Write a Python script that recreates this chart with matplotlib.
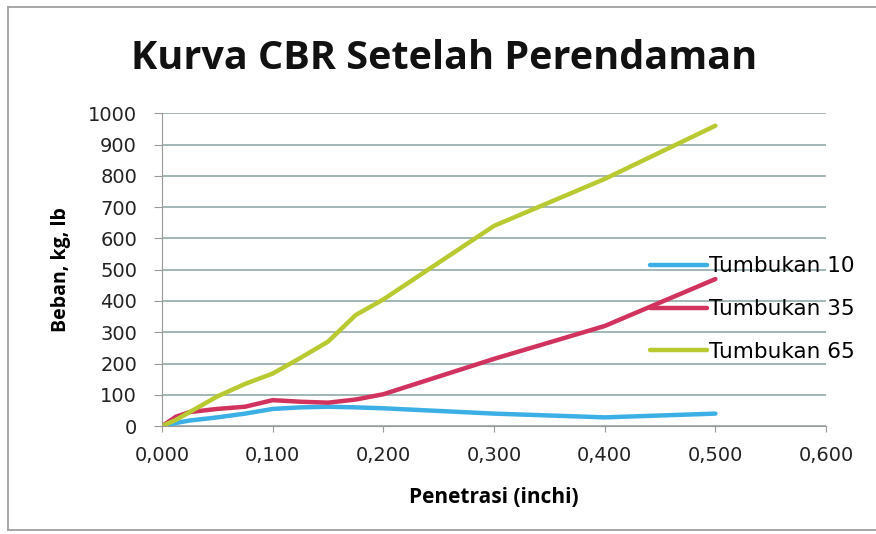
import numpy as np
import matplotlib.pyplot as plt
from matplotlib.lines import Line2D
from matplotlib.ticker import FuncFormatter

# penetrasi (inchi) dan beban untuk tiap jumlah tumbukan
penetrasi = [0, 0.0125, 0.025, 0.05, 0.075, 0.1, 0.125, 0.15, 0.175, 0.2, 0.3, 0.4, 0.5]
tumbukan_10 = [0, 10, 18, 28, 40, 55, 60, 62, 60, 57, 40, 28, 40]
tumbukan_35 = [0, 30, 45, 55, 62, 83, 78, 75, 85, 102, 215, 320, 470]
tumbukan_65 = [0, 20, 45, 95, 135, 168, 218, 270, 355, 405, 640, 790, 960]
labels = ['Tumbukan 10', 'Tumbukan 35', 'Tumbukan 65']
warna = ['#3cb0e6', '#d2325e', '#b9c932']

fig = plt.figure(figsize=(8.76, 5.34), dpi=100)
ax = fig.add_axes([0.185, 0.202, 0.758, 0.586])

for y, lab, c in zip([tumbukan_10, tumbukan_35, tumbukan_65], labels, warna):
    ax.plot(penetrasi, y, color=c, lw=3.2, label=lab, solid_capstyle='round')

ax.set_xlim(0, 0.6)
ax.set_ylim(0, 1000)
ax.set_xticks(np.arange(0, 0.61, 0.1))
ax.set_yticks(np.arange(0, 1001, 100))
ax.xaxis.set_major_formatter(FuncFormatter(lambda v, p: f'{v:.3f}'.replace('.', ',')))
ax.grid(axis='y', color='#8aa3a3', lw=1.1)
ax.set_axisbelow(True)
for s in ['top', 'right']:
    ax.spines[s].set_visible(False)
for s in ['left', 'bottom']:
    ax.spines[s].set_color('#999999')
ax.tick_params(axis='both', colors='#999999', labelcolor='#222222', labelsize=14)
ax.tick_params(axis='x', length=4, pad=10)
ax.tick_params(axis='y', length=6, pad=12)

ax.set_xlabel('Penetrasi (inchi)', fontsize=15, fontweight='bold', family='Open Sans')
ax.xaxis.set_label_coords(0.5, -0.195)
ax.set_ylabel('Beban, kg, lb', fontsize=14, fontweight='bold', family='Open Sans')
ax.yaxis.set_label_coords(-0.137, 0.5)
fig.text(0.5074, 1 - 69 / 534, 'Kurva CBR Setelah Perendaman', ha='center', va='baseline',
         fontsize=28.5, fontweight='bold', family='Open Sans', color='#111111')

ax.legend(loc='center left', bbox_to_anchor=(0.735, 0.374), frameon=False, fontsize=15.5,
          handlelength=2.65, handletextpad=0.1, labelspacing=1.05, borderaxespad=0, borderpad=0)

# bingkai luar (kiri, atas, bawah)
for xs, ys in [([8, 8], [7, 530]), ([8, 876], [7, 7]), ([8, 876], [530, 530])]:
    fig.add_artist(Line2D([x / 876 for x in xs], [1 - y / 534 for y in ys],
                          transform=fig.transFigure, color='#a0a0a0', lw=1.3))

fig.savefig('out.png', dpi=100)
